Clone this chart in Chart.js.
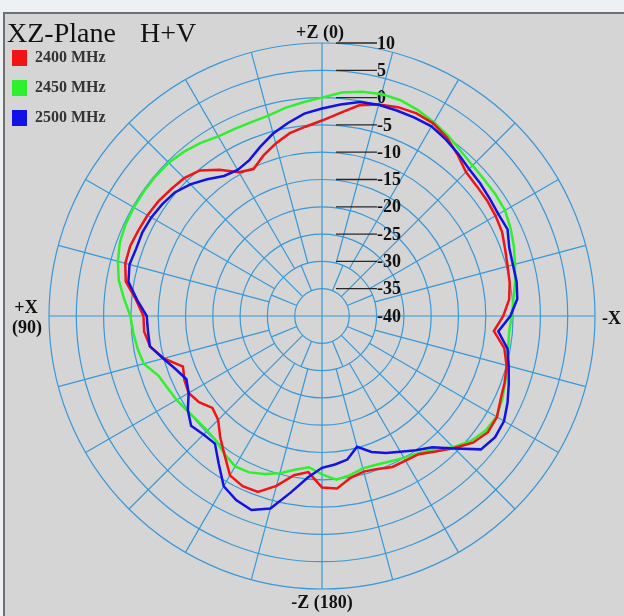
<!DOCTYPE html>
<html>
<head>
<meta charset="utf-8">
<title>XZ-Plane H+V</title>
<script src="https://cdn.jsdelivr.net/npm/chart.js@4.4.1/dist/chart.umd.min.js"></script>
<style>
  html, body { margin: 0; padding: 0; }
  body { width: 624px; height: 616px; background: #eef1f3; position: relative; overflow: hidden; }
  #frame { position: absolute; left: 3px; top: 12px; right: 0; bottom: 0; background: #d5d5d5;
           border-top: 2px solid #707070; border-left: 2px solid #707070; }
  #plot { position: absolute; left: 0; top: 0; }
</style>
</head>
<body>
<div id="frame"></div>
<canvas id="plot" width="624" height="616"></canvas>
<script>
// measured gain (dB) per angle, angle counted from +Z towards +X
const angles = [0, 5, 10, 15, 20, 25, 30, 35, 40, 45, 50, 55, 60, 65, 70, 75, 80, 85,
  90, 95, 100, 105, 110, 115, 120, 125, 130, 135, 140, 145, 150, 155, 160, 165, 170, 175,
  180, 185, 190, 195, 200, 205, 210, 215, 220, 225, 230, 235, 240, 245, 250, 255, 260, 265,
  270, 275, 280, 285, 290, 295, 300, 305, 310, 315, 320, 325, 330, 335, 340, 345, 350, 355];

const gain2400 = [-4.2, -5.2, -6.0, -7.3, -8.7, -10.3, -9.6, -7.3, -5.2, -4.3, -3.9, -3.4,
  -3.1, -2.9, -2.6, -2.7, -3.5, -5.8, -7.3, -7.3, -8.0, -10.0, -12.9, -12.2, -11.8, -12.5,
  -13.8, -13.1, -11.0, -8.9, -6.3, -5.6, -5.7, -7.8, -10.4, -11.3, -8.6, -8.3, -9.9, -10.5,
  -10.2, -9.5, -9.4, -9.1, -7.6, -5.8, -3.9, -2.9, -3.0, -3.9, -4.4, -5.0, -6.1, -8.4,
  -6.8, -5.6, -5.1, -4.8, -4.3, -3.6, -3.3, -3.1, -3.0, -2.7, -1.4, -0.1, 0.75, 0.95,
  0.7, 0.1, -0.8, -2.7];

const gain2450 = [0.0, -0.7, -1.3, -2.0, -2.2, -2.2, -2.0, -1.3, -0.7, -0.3, -0.2, -0.2,
  -0.2, -0.3, -0.6, -1.3, -2.2, -3.6, -4.9, -5.3, -5.7, -6.2, -8.1, -8.8, -9.25, -9.8,
  -10.2, -10.3, -10.0, -9.0, -8.2, -8.4, -9.2, -10.2, -11.4, -12.2, -11.0, -9.9, -10.4, -11.1,
  -11.0, -10.6, -10.0, -9.3, -8.1, -6.0, -4.4, -3.4, -3.1, -3.6, -4.3, -4.9, -5.4, -5.6,
  -5.25, -4.8, -4.1, -3.4, -2.6, -1.9, -1.3, -1.2, -1.2, -1.0, -0.5, 0.3, 1.0, 1.6,
  2.05, 2.1, 1.7, 1.1];

const gain2500 = [-2.0, -2.8, -4.1, -5.4, -7.0, -8.5, -9.1, -8.7, -7.3, -5.9, -4.8, -4.3,
  -3.9, -3.7, -3.8, -3.5, -4.0, -6.0, -7.9, -8.0, -8.0, -9.9, -11.5, -12.6, -11.8, -10.0,
  -8.7, -9.3, -9.5, -7.0, -4.0, -2.8, -2.2, -3.5, -7.2, -10.3, -12.2, -12.7, -13.3, -15.2,
  -13.5, -12.3, -11.3, -10.0, -8.6, -5.7, -2.0, -1.3, -1.5, -2.5, -3.6, -4.6, -5.5, -7.6,
  -5.5, -4.1, -3.8, -3.8, -3.5, -2.5, -2.7, -2.5, -2.2, -1.9, -1.2, -0.5, 0.1, 0.1,
  0.05, 0.05, -0.2, -1.1];

const ringTicks = [10, 5, 0, -5, -10, -15, -20, -25, -30, -35, -40];
const bands = ['2400 MHz', '2450 MHz', '2500 MHz'];
const bandColors = ['#f01414', '#2ef02e', '#1212e4'];

const gridBlue = '#3898d8';
const serif = '"Liberation Serif", "DejaVu Serif", serif';

// radar scale runs clockwise from the top, the pattern runs counter-clockwise
const clockwise = arr => arr.map((_, i) => arr[(arr.length - i) % arr.length]);
const indexForAngle = deg => ((360 - deg) % 360) / 360 * angles.length;

// one spoke segment between two dB values
function spoke(ctx, s, deg, from, to) {
  const p0 = s.getPointPositionForValue(indexForAngle(deg), from);
  const p1 = s.getPointPositionForValue(indexForAngle(deg), to);
  ctx.beginPath();
  ctx.moveTo(p0.x, p0.y);
  ctx.lineTo(p1.x, p1.y);
  ctx.stroke();
}

const polarFrame = {
  id: 'polarFrame',
  beforeDatasetsDraw(chart) {
    const s = chart.scales.r;
    const ctx = chart.ctx;
    ctx.save();

    // spoke web: axes through the centre, 22.5 deg in the second ring, 15 deg further out
    ctx.strokeStyle = gridBlue;
    ctx.lineWidth = 1.2;
    for (let d = 0; d < 360; d += 90) spoke(ctx, s, d, s.min, s.max);
    for (let d = 15; d < 360; d += 15) {
      if (d % 90) spoke(ctx, s, d, d % 22.5 ? -30 : -35, s.max);
    }
    for (let d = 22.5; d < 360; d += 22.5) {
      if (d % 15) spoke(ctx, s, d, -35, -30);
    }

    // dB ring labels with leader lines
    ctx.font = 'bold 18px ' + serif;
    ctx.textBaseline = 'middle';
    ctx.textAlign = 'left';
    ringTicks.forEach(v => {
      const y = s.yCenter - s.getDistanceFromCenterForValue(v);
      if (v > s.min) {
        ctx.strokeStyle = '#262626';
        ctx.lineWidth = 1.3;
        ctx.beginPath();
        ctx.moveTo(s.xCenter + 14, y);
        ctx.lineTo(s.xCenter + 55, y);
        ctx.stroke();
      }
      ctx.fillStyle = '#111';
      ctx.fillText(String(v), s.xCenter + 55, y + 1);
    });
    ctx.restore();
  },
  afterDraw(chart) {
    const s = chart.scales.r;
    const ctx = chart.ctx;
    const outer = s.getDistanceFromCenterForValue(s.max);
    ctx.save();
    ctx.fillStyle = '#111';

    // title
    ctx.font = '28px ' + serif;
    ctx.textBaseline = 'alphabetic';
    ctx.textAlign = 'left';
    ctx.fillText('XZ-Plane', 7, 42);
    ctx.fillText('H+V', 140, 42);

    // legend
    ctx.font = 'bold 16px ' + serif;
    ctx.textBaseline = 'middle';
    bands.forEach((b, i) => {
      const y = 58 + i * 30;
      ctx.fillStyle = bandColors[i];
      ctx.fillRect(12, y - 8, 15, 16);
      ctx.fillStyle = '#333';
      ctx.fillText(b, 35, y);
    });

    // axis direction labels
    ctx.fillStyle = '#111';
    ctx.font = 'bold 18px ' + serif;
    ctx.textAlign = 'center';
    ctx.fillText('+Z (0)', s.xCenter - 2, s.yCenter - outer - 10);
    ctx.fillText('-Z (180)', s.xCenter, s.yCenter + outer + 14);
    ctx.fillText('+X', 26, s.yCenter - 8);
    ctx.fillText('(90)', 27, s.yCenter + 12);
    ctx.textAlign = 'left';
    ctx.fillText('-X', s.xCenter + outer + 7, s.yCenter + 3);
    ctx.restore();
  }
};

const series = [
  { label: bands[2], data: clockwise(gain2500), color: bandColors[2], order: 1 },
  { label: bands[0], data: clockwise(gain2400), color: bandColors[0], order: 2 },
  { label: bands[1], data: clockwise(gain2450), color: bandColors[1], order: 3 }
];

new Chart(document.getElementById('plot'), {
  type: 'radar',
  data: {
    labels: clockwise(angles),
    datasets: series.map(d => ({
      label: d.label,
      data: d.data,
      order: d.order,
      borderColor: d.color,
      backgroundColor: 'transparent',
      fill: false,
      borderWidth: 2.5,
      pointRadius: 0,
      tension: 0
    }))
  },
  options: {
    responsive: false,
    animation: false,
    devicePixelRatio: 1,
    layout: { padding: { left: 49, top: 43, right: 29, bottom: 27 } },
    plugins: { legend: { display: false }, tooltip: { enabled: false } },
    scales: {
      r: {
        min: -40,
        max: 10,
        ticks: { display: false, stepSize: 5 },
        pointLabels: { display: false },
        angleLines: { display: false },
        grid: { circular: true, color: gridBlue, lineWidth: 1.2 }
      }
    }
  },
  plugins: [polarFrame]
});
</script>
</body>
</html>
